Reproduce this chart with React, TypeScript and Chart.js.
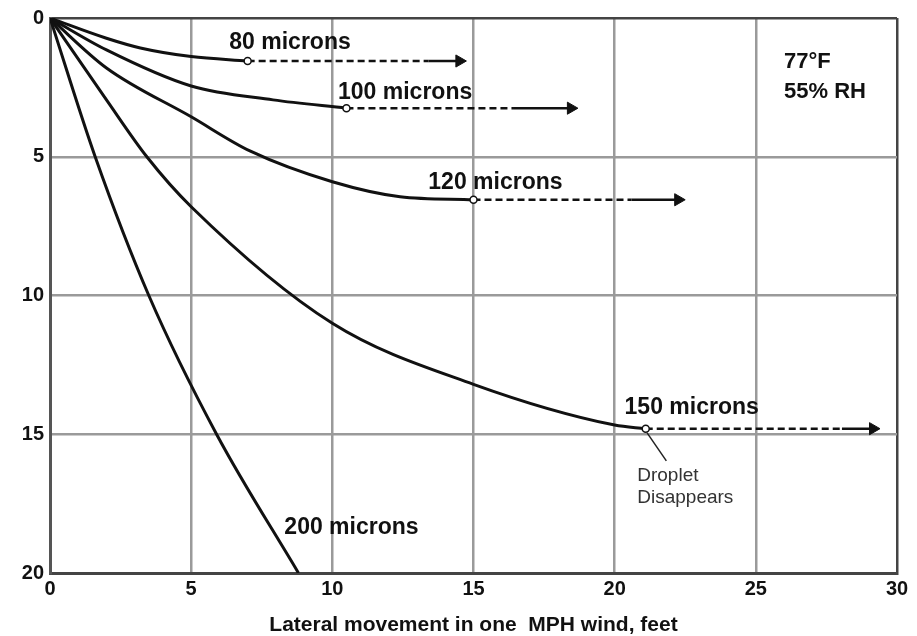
import { useEffect, useRef } from 'react';
import { Chart, registerables } from 'chart.js';
Chart.register(...registerables);

// Axis ticks
const xTicks = [0, 5, 10, 15, 20, 25, 30];
const yTicks = [0, 5, 10, 15, 20];

// Fall curves (lateral movement ft, fall distance ft)
const x80 = [0, 2, 3.2, 5, 7.0];
const y80 = [0, 0.73, 1.08, 1.39, 1.55];
const x100 = [0, 2, 5, 7.9, 10.5];
const y100 = [0, 1.15, 2.45, 2.95, 3.25];
const x120 = [0, 2, 5, 7.1, 10, 12.4, 15];
const y120 = [0, 1.8, 3.56, 4.8, 5.9, 6.44, 6.55];
const x150 = [0, 2, 3.43, 5, 10, 15, 20, 21.1];
const y150 = [0, 2.95, 5, 6.8, 11.0, 13.2, 14.67, 14.8];
const x200 = [0, 1.6, 3.5, 5.9, 8.8];
const y200 = [0, 5, 10, 15, 20];

const sizeLabels = ['80 microns', '100 microns', '120 microns', '150 microns', '200 microns'];

// Drift after the droplet disappears
const driftStartX = [7.0, 10.5, 15, 21.1];
const driftY = [1.55, 3.25, 6.55, 14.8];
const solidStartX = [13.4, 16.4, 20.6, 28.05];
const arrowX = [14.5, 18.45, 22.25, 29.15];

const conditionLines = ['77°F', '55% RH'];
const noteLines = ['Droplet', 'Disappears'];
const axisTitle = 'Lateral movement in one  MPH wind, feet';

const FONT = "'Liberation Sans', Arial, sans-serif";

const pts = (xs: number[], ys: number[]) => xs.map((x, i) => ({ x, y: ys[i] }));

export default function App() {
  const ref = useRef<HTMLCanvasElement>(null);
  useEffect(() => {
    if (!ref.current) return;
    const curves = [
      pts(x80, y80),
      pts(x100, y100),
      pts(x120, y120),
      pts(x150, y150),
      pts(x200, y200),
    ];
    const datasets: any[] = [];
    // end circles (on top)
    driftStartX.forEach((x, i) => {
      datasets.push({
        data: [{ x, y: driftY[i] }],
        showLine: false,
        pointRadius: 3.5,
        pointBackgroundColor: '#fff',
        pointBorderColor: '#111',
        pointBorderWidth: 1.5,
        order: 0,
      });
    });
    curves.forEach((c) => {
      datasets.push({
        data: c,
        borderColor: '#111',
        borderWidth: 3,
        pointRadius: 0,
        cubicInterpolationMode: 'monotone',
        fill: false,
        order: 2,
      });
    });
    driftStartX.forEach((x, i) => {
      datasets.push({
        data: [
          { x, y: driftY[i] },
          { x: solidStartX[i], y: driftY[i] },
        ],
        borderColor: '#111',
        borderWidth: 2.5,
        borderDash: [7, 4],
        pointRadius: 0,
        order: 1,
      });
      datasets.push({
        data: [
          { x: solidStartX[i], y: driftY[i] },
          { x: arrowX[i], y: driftY[i] },
        ],
        borderColor: '#111',
        borderWidth: 2.5,
        pointRadius: [0, 7],
        pointStyle: 'triangle',
        rotation: 90,
        pointBackgroundColor: '#111',
        pointBorderColor: '#111',
        pointBorderWidth: 1,
        order: 1,
      });
    });

    const annotations = {
      id: 'annotations',
      afterDatasetsDraw(chart: any) {
        const { ctx, scales } = chart;
        const X = (v: number) => scales.x.getPixelForValue(v);
        const Y = (v: number) => scales.y.getPixelForValue(v);
        ctx.save();
        ctx.fillStyle = '#111';
        ctx.textAlign = 'left';
        ctx.textBaseline = 'middle';
        ctx.font = `bold 23px ${FONT}`;
        const labelPos = [
          [6.35, 0.9],
          [10.2, 2.68],
          [13.4, 5.92],
          [20.35, 14.05],
          [8.3, 18.37],
        ];
        sizeLabels.forEach((t, i) => ctx.fillText(t, X(labelPos[i][0]), Y(labelPos[i][1])));
        ctx.font = `bold 22px ${FONT}`;
        ctx.fillText(conditionLines[0], X(26.0), Y(1.6));
        ctx.fillText(conditionLines[1], X(26.0), Y(2.65));
        ctx.font = `19px ${FONT}`;
        ctx.fillStyle = '#333';
        ctx.fillText(noteLines[0], X(20.8), Y(16.48));
        ctx.fillText(noteLines[1], X(20.8), Y(17.3));
        // leader line
        ctx.strokeStyle = '#222';
        ctx.lineWidth = 1.5;
        ctx.beginPath();
        ctx.moveTo(X(21.15), Y(14.95));
        ctx.lineTo(X(21.83), Y(15.96));
        ctx.stroke();
        ctx.restore();
      },
    };

    const gridColor = (edge: number[]) => (c: any) =>
      c.tick && edge.includes(c.tick.value) ? '#444' : '#9a9a9a';

    const chart = new Chart(ref.current, {
      type: 'line',
      data: { datasets },
      options: {
        animation: false,
        responsive: true,
        maintainAspectRatio: false,
        layout: { padding: { top: 18, right: 20, left: 0, bottom: 0 } },
        plugins: { legend: { display: false }, tooltip: { enabled: false } },
        scales: {
          x: {
            type: 'linear',
            min: xTicks[0],
            max: xTicks[xTicks.length - 1],
            afterBuildTicks: (s: any) => {
              s.ticks = xTicks.map((v) => ({ value: v }));
            },
            afterFit: (s: any) => {
              s.height = 63;
            },
            grid: { color: gridColor([0, 30]), lineWidth: 2.5, drawTicks: false },
            border: { display: true, color: '#444', width: 3 },
            ticks: {
              color: '#111',
              padding: 4,
              maxRotation: 0,
              autoSkip: false,
              font: { family: FONT, weight: 'bold', size: 20 },
            },
            title: {
              display: true,
              text: axisTitle,
              color: '#111',
              font: { family: FONT, weight: 'bold', size: 21, lineHeight: 1 },
              padding: { top: 0, bottom: 0 },
            },
          },
          y: {
            type: 'linear',
            reverse: true,
            min: yTicks[0],
            max: yTicks[yTicks.length - 1],
            afterBuildTicks: (s: any) => {
              s.ticks = yTicks.map((v) => ({ value: v }));
            },
            afterFit: (s: any) => {
              s.width = 50;
            },
            grid: { color: gridColor([0, 20]), lineWidth: 2.5, drawTicks: false },
            border: { display: true, color: '#555', width: 3 },
            ticks: {
              color: '#111',
              padding: 6,
              autoSkip: false,
              font: { family: FONT, weight: 'bold', size: 20 },
            },
          },
        },
      } as any,
      plugins: [annotations],
    });
    return () => chart.destroy();
  }, []);

  return (
    <div style={{ position: 'fixed', left: 0, top: 0, width: 917, height: 636, background: '#fff' }}>
      <canvas ref={ref} />
    </div>
  );
}
